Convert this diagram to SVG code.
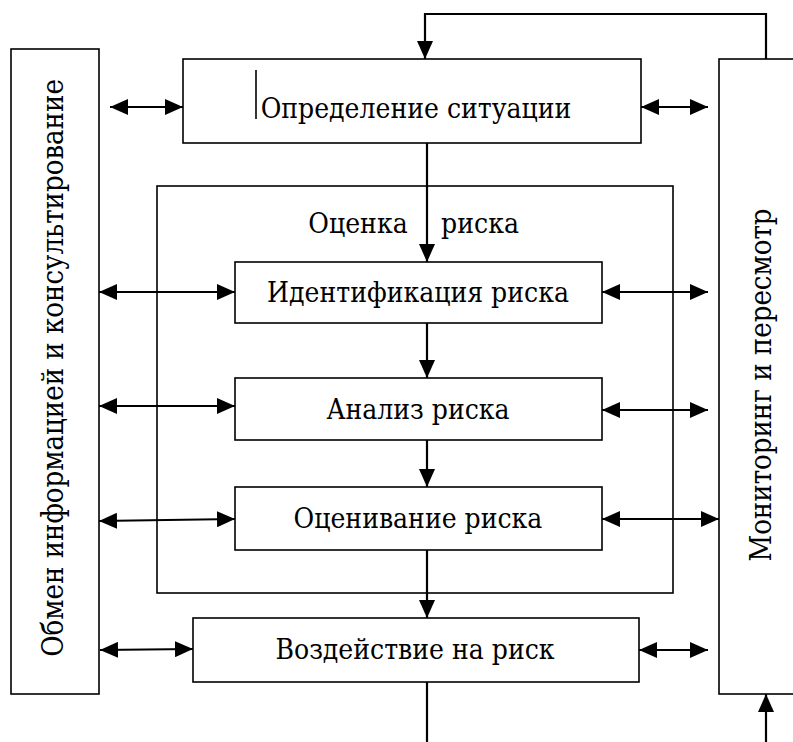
<svg xmlns="http://www.w3.org/2000/svg" width="793" height="742" viewBox="0 0 793 742">
<style>
.box{fill:#fff;stroke:#000;stroke-width:1.6}
.frame{fill:none;stroke:#000;stroke-width:1.6}
.c{fill:none;stroke:#000;stroke-width:2.2}
.t{font-family:'DejaVu Serif Condensed','DejaVu Serif',serif;font-stretch:condensed;font-size:28px;fill:#000}
.v{font-size:29px}
.m{text-anchor:middle}
</style>
<defs>
<marker id="ah" viewBox="0 0 18 16" refX="18" refY="8" markerWidth="18" markerHeight="16" markerUnits="userSpaceOnUse" orient="auto-start-reverse">
<path d="M0,0 L18,8 L0,16 z" fill="#000"/>
</marker>
</defs>
<rect width="793" height="742" fill="#fff"/>

<g id="risk-assessment">
<rect class="frame" x="157" y="186" width="516" height="407"/>
<text class="t m" x="358" y="233">Оценка</text>
<text class="t m" x="480" y="233">риска</text>
</g>

<g id="exchange">
<rect class="box" x="11" y="49" width="88" height="645"/>
<text class="t v m" transform="translate(63,368) rotate(-90)">Обмен информацией и консультирование</text>
</g>

<g id="monitoring">
<rect class="box" x="719" y="59" width="100" height="635"/>
<text class="t v m" transform="translate(771,385) rotate(-90)">Мониторинг и пересмотр</text>
</g>

<g id="context">
<rect class="box" x="183" y="59" width="458" height="84"/>
<line x1="256" y1="70" x2="256" y2="119" stroke="#000" stroke-width="1.6"/>
<text class="t m" x="416" y="118">Определение ситуации</text>
</g>

<g id="identification">
<rect class="box" x="235" y="262" width="367" height="61"/>
<text class="t m" x="418" y="302">Идентификация риска</text>
</g>

<g id="analysis">
<rect class="box" x="235" y="378" width="367" height="62"/>
<text class="t m" x="418" y="419">Анализ риска</text>
</g>

<g id="evaluation">
<rect class="box" x="235" y="487" width="367" height="63"/>
<text class="t m" x="418" y="528">Оценивание риска</text>
</g>

<g id="treatment">
<rect class="box" x="193" y="618" width="446" height="64"/>
<text class="t m" x="415" y="659">Воздействие на риск</text>
</g>

<g id="connectors">
<line class="c" x1="110" y1="107" x2="183" y2="107" marker-start="url(#ah)" marker-end="url(#ah)"/>
<line class="c" x1="641" y1="107" x2="708" y2="107" marker-start="url(#ah)" marker-end="url(#ah)"/>
<polyline class="c" points="766,59 766,14 425,14 425,59" marker-end="url(#ah)"/>
<line class="c" x1="427" y1="143" x2="427" y2="262" marker-end="url(#ah)"/>
<line class="c" x1="427" y1="323" x2="427" y2="378" marker-end="url(#ah)"/>
<line class="c" x1="427" y1="440" x2="427" y2="487" marker-end="url(#ah)"/>
<line class="c" x1="427" y1="550" x2="427" y2="618" marker-end="url(#ah)"/>
<line class="c" x1="427" y1="682" x2="427" y2="742"/>
<line class="c" x1="99" y1="292" x2="235" y2="292" marker-start="url(#ah)" marker-end="url(#ah)"/>
<line class="c" x1="99" y1="406" x2="235" y2="406" marker-start="url(#ah)" marker-end="url(#ah)"/>
<line class="c" x1="99" y1="521" x2="235" y2="519" marker-start="url(#ah)" marker-end="url(#ah)"/>
<line class="c" x1="100" y1="650" x2="193" y2="649" marker-start="url(#ah)" marker-end="url(#ah)"/>
<line class="c" x1="602" y1="292" x2="708" y2="292" marker-start="url(#ah)" marker-end="url(#ah)"/>
<line class="c" x1="602" y1="410" x2="708" y2="410" marker-start="url(#ah)" marker-end="url(#ah)"/>
<line class="c" x1="602" y1="519" x2="719" y2="519" marker-start="url(#ah)" marker-end="url(#ah)"/>
<line class="c" x1="639" y1="650" x2="708" y2="650" marker-start="url(#ah)" marker-end="url(#ah)"/>
<line class="c" x1="766" y1="742" x2="766" y2="694" marker-end="url(#ah)"/>
</g>
</svg>
